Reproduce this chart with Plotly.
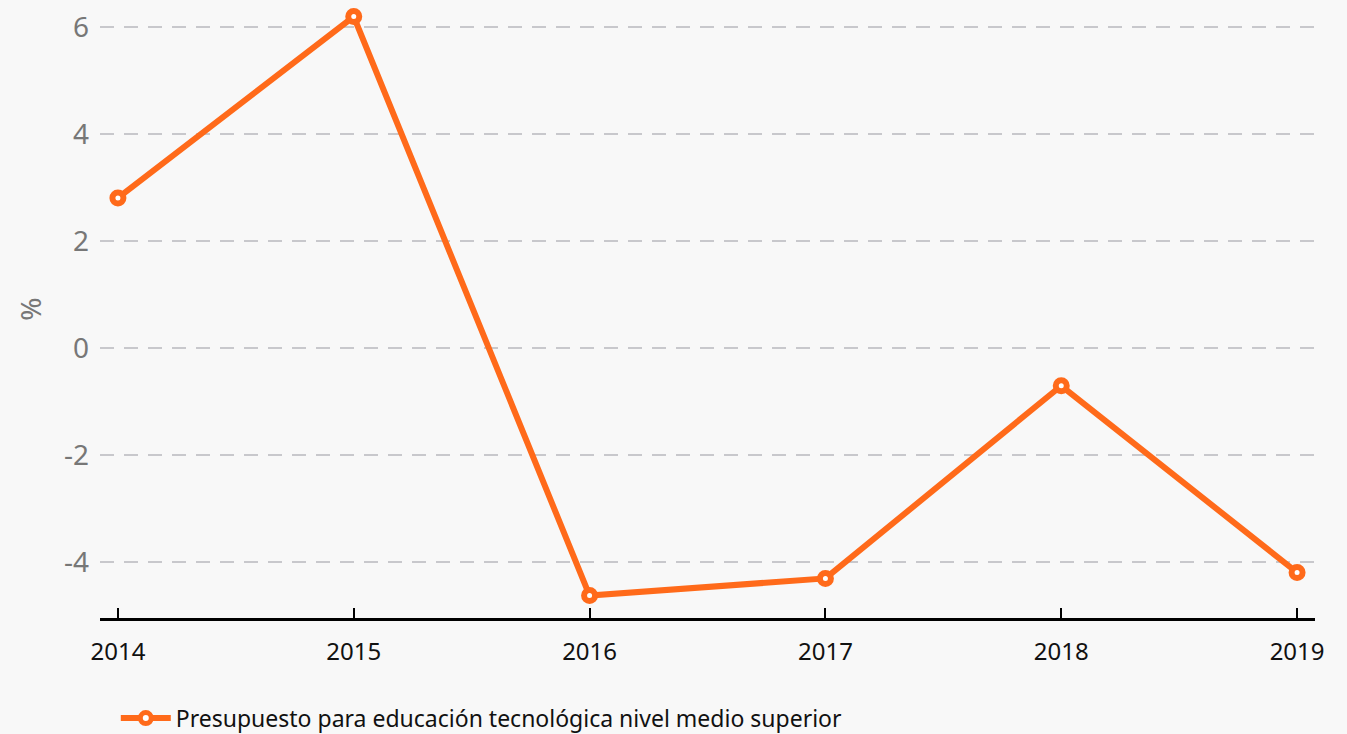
import plotly.graph_objects as go

years = [2014, 2015, 2016, 2017, 2018, 2019]
values = [2.80, 6.19, -4.63, -4.31, -0.71, -4.20]
series_name = "Presupuesto para educación tecnológica nivel medio superior"
y_ticks = [-4, -2, 0, 2, 4, 6]
y_tick_text = ["-4", "-2", "0", "2", "4", "6"]

orange = "#ff6a1a"

fig = go.Figure()
fig.add_trace(go.Scatter(
    x=years, y=values, mode="lines+markers", name=series_name,
    line=dict(color=orange, width=6),
    marker=dict(symbol="circle", size=11, color="white", line=dict(color=orange, width=6)),
))

fig.update_layout(
    width=1347, height=734,
    paper_bgcolor="#f8f8f8", plot_bgcolor="#f8f8f8",
    margin=dict(l=100, r=32, t=0, b=116, autoexpand=False),
    font=dict(family="Noto Sans, Open Sans, sans-serif"),
    showlegend=True,
    legend=dict(orientation="h", x=0.013, xanchor="left", y=-0.162, yanchor="middle",
                itemwidth=50,
                font=dict(size=23, color="#111111"), bgcolor="rgba(0,0,0,0)"),
    xaxis=dict(
        range=[2013.924, 2019.076], tickvals=years, ticktext=[str(y) for y in years],
        showgrid=False, zeroline=False,
        showline=True, linecolor="black", linewidth=3,
        ticks="inside", ticklen=10, tickwidth=2, tickcolor="black",
        tickfont=dict(size=24, color="#111111"), ticklabelstandoff=10,
    ),
    yaxis=dict(
        range=[-5.05, 6.5], tickvals=y_ticks, ticktext=y_tick_text,
        showgrid=True, gridcolor="#c8c8cc", gridwidth=2, griddash="14px,10px",
        zeroline=False, showline=False, ticklabelstandoff=10,
        tickfont=dict(size=28, color="#777777"),
        title=dict(text="%", font=dict(size=28, color="#777777"), standoff=14),
    ),
)

fig.write_html(
    "out.html",
    config={"displayModeBar": False},
    post_script="document.body.style.margin='0';document.body.style.background='#f8f8f8';",
)
